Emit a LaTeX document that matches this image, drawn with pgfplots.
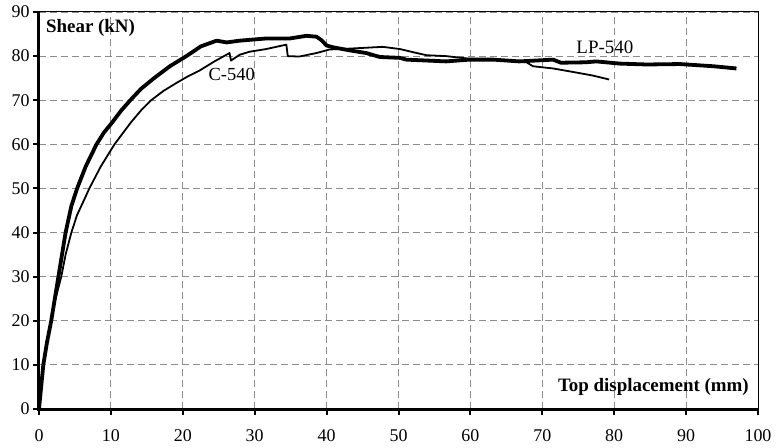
\documentclass[border=0pt]{standalone}
\usepackage{fontspec}
\setmainfont{Liberation Serif}
\usepackage{pgfplots}
\pgfplotsset{compat=1.18}
\definecolor{gridgray}{HTML}{8C8C8C}

\begin{document}
\begin{tikzpicture}
\begin{axis}[
    scale only axis,
    width=719bp, height=397bp,
    xmin=0, xmax=100, ymin=0, ymax=90,
    xtick={0,10,...,100}, ytick={0,10,...,90},
    tick pos=left, tick align=outside,
    major tick length=6bp,
    tick style={black, line width=2bp},
    axis line style={black, line width=1bp},
    grid=major,
    major grid style={gridgray, line width=0.8bp, dash pattern=on 7bp off 4bp},
    tick label style={font=\fontsize{18}{20}\selectfont},
    xticklabel style={yshift=-11bp},
    /pgf/number format/assume math mode=true,
    clip=false,
    after end axis/.code={
        \draw[black, line width=3bp] (rel axis cs:0,1) -- (rel axis cs:0,0) -- (rel axis cs:1,0);
    },
]
% LP-540
\addplot[black, line width=3.8bp, line join=round] coordinates {
(0,0) (0.3,5) (0.6,10) (1.1,15) (1.7,20) (2.2,25) (2.7,30) (3.2,35) (3.7,40)
(4.5,46) (5.3,50) (6.5,55) (8.0,60) (9.0,62.6) (10.2,65) (11.4,67.6) (12.7,70)
(14.2,72.6) (16.0,75) (18.2,77.7) (20.5,80) (22.5,82.2) (24.7,83.5) (26.1,83.1)
(27.9,83.5) (31.6,84.0) (34.9,84.0) (37.2,84.6) (38.6,84.4) (39.3,83.6)
(40.0,82.4) (40.9,82.0) (43.2,81.3) (45.5,80.7) (47.4,79.8) (50.2,79.6)
(51.1,79.2) (56.6,78.8) (59.9,79.2) (63.2,79.2) (66.8,78.8) (71.5,79.2)
(72.6,78.5) (76.1,78.6) (77.5,78.8) (80.8,78.3) (84.5,78.1) (89.1,78.2)
(93.8,77.7) (97.0,77.2)
};
% C-540
\addplot[black, line width=1.8bp, line join=round] coordinates {
(0,0) (0.3,5) (0.6,10) (1.1,15) (1.7,20) (2.3,25) (3.1,30) (3.7,35) (4.5,40)
(5.3,44) (6.3,47.5) (7.0,50) (8.6,55) (10.5,60) (12.8,65) (14.2,67.7)
(15.6,70) (17.3,72.1) (19.1,73.9) (20.7,75.4) (22.3,76.7) (24.4,78.8)
(26.5,80.7) (26.7,79.0) (27.9,80.3) (29.3,81.0) (31.6,81.6) (34.4,82.6)
(34.6,80.0) (36.2,79.9) (38.6,80.7) (40.4,81.5) (43.2,81.7) (47.8,82.1)
(50.2,81.6) (52.0,80.9) (53.9,80.2) (56.6,80.0) (59.9,79.4) (62.7,79.2)
(67.8,78.6) (68.7,77.7) (71.5,77.2) (74.3,76.4) (77.0,75.6) (79.3,74.7)
};
\node[anchor=west, font=\fontsize{19}{22}\selectfont\bfseries] at (axis cs:0.5,86.4) {Shear (kN)};
\node[anchor=east, font=\fontsize{19}{22}\selectfont\bfseries] at (axis cs:99.2,5.1) {Top displacement (mm)};
\node[font=\fontsize{18.5}{22}\selectfont] at (axis cs:26.8,75.8) {C-540};
\node[font=\fontsize{19}{22}\selectfont] at (axis cs:78.7,82.1) {LP-540};
\end{axis}
\pgfresetboundingbox
\path[use as bounding box] ([shift={(-39bp,-39bp)}]current axis.south west) rectangle ([shift={(18bp,12bp)}]current axis.north east);
\end{tikzpicture}
\end{document}
